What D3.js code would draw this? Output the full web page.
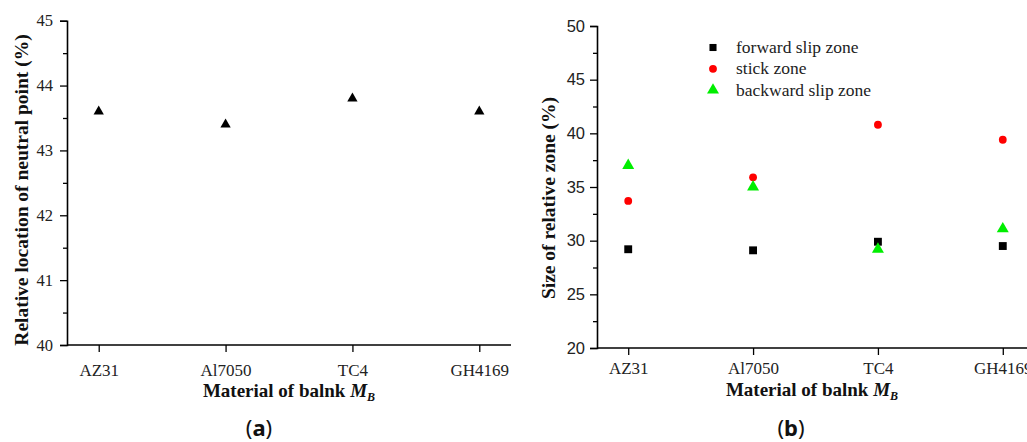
<!DOCTYPE html>
<html><head><meta charset="utf-8">
<script src="https://cdn.jsdelivr.net/npm/d3@7"></script>
<style>
html,body{margin:0;padding:0;background:#fff;}
svg{display:block;}
</style>
</head><body>
<svg id="c" width="1027" height="442"></svg>
<script>
// ---- data ----
const materials = ["AZ31", "Al7050", "TC4", "GH4169"];
const neutralPoint = [43.6, 43.4, 43.8, 43.6];
const forwardSlip = [29.2, 29.1, 29.9, 29.5];
const stickZone = [33.7, 35.9, 40.8, 39.4];
const backwardSlip = [37.0, 35.0, 29.2, 31.1];
const seriesNames = ["forward slip zone", "stick zone", "backward slip zone"];
const ticksA = [40, 41, 42, 43, 44, 45];
const ticksB = [20, 25, 30, 35, 40, 45, 50];

const SERIF = "'Liberation Serif','Times New Roman',Times,serif";
const SANS = "'Liberation Sans',Arial,Helvetica,sans-serif";

const svg = d3.select("#c");

function drawAxes(g, x, y, majors, minors, yFont, yPad, xLabelDy) {
  const ya = d3.axisLeft(y).tickValues(majors).tickSize(7).tickPadding(yPad).tickFormat(d3.format("d"));
  const yg = g.append("g").attr("transform", `translate(${x.range()[0]},0)`).call(ya);
  yg.attr("font-family", null).attr("font-size", null);
  yg.selectAll("text").style("font-family", yFont).style("font-size", "16.5px").attr("fill", "#222");
  const ym = d3.axisLeft(y).tickValues(minors).tickSize(4).tickFormat("");
  g.append("g").attr("transform", `translate(${x.range()[0]},0)`).call(ym).select(".domain").remove();
  const xa = d3.axisBottom(x).tickSize(7).tickPadding(0);
  const xg = g.append("g").attr("transform", `translate(0,${y.range()[0]})`).call(xa);
  xg.attr("font-family", null).attr("font-size", null);
  xg.select(".domain").attr("d", `M${x.range()[0]},0H${x.range()[1]}`);
  xg.selectAll("text").style("font-family", SERIF).style("font-size", "17px").attr("fill", "#222")
    .attr("dy", null).attr("y", xLabelDy);
  g.selectAll(".domain").attr("stroke", "#000").attr("stroke-width", 1.6);
  g.selectAll(".tick line").attr("stroke", "#000").attr("stroke-width", 1.3);
}

function boldText(g, t) {
  return g.append("text").style("font-family", SERIF).style("font-size", "19.5px")
    .style("font-weight", "bold").attr("fill", "#111").text(t);
}

function xTitle(g, cx, y) {
  const t = g.append("text").style("font-family", SERIF).style("font-size", "19px").style("font-weight", "bold")
    .attr("x", cx).attr("y", y).attr("text-anchor", "middle").attr("fill", "#111");
  t.append("tspan").text("Material of balnk ");
  t.append("tspan").style("font-style", "italic").text("M");
  t.append("tspan").style("font-style", "italic").style("font-size", "12px").attr("dy", 4).text("B");
}

function panelLabel(g, cx, letter) {
  const l = g.append("text").style("font-family", "'Noto Sans',sans-serif").style("font-size", "22px")
    .attr("x", cx).attr("y", 436).attr("text-anchor", "middle").attr("fill", "#111");
  l.append("tspan").text("(");
  l.append("tspan").style("font-weight", "bold").text(letter);
  l.append("tspan").text(")");
}

// ---- panel (a) ----
const gA = svg.append("g");
const xA = d3.scalePoint().domain(materials).range([67, 511]).padding(0.25);
const yA = d3.scaleLinear().domain([40, 45]).range([345, 20.7]);
drawAxes(gA, xA, yA, ticksA, d3.range(40.5, 45, 1), SERIF, 7, 31);
gA.selectAll("path.tri").data(materials).enter().append("path")
  .attr("d", d3.symbol(d3.symbolTriangle, 46)())
  .attr("transform", (d, i) => `translate(${xA(d)},${yA(neutralPoint[i])})`)
  .attr("fill", "#000");
boldText(gA, "Relative location of neutral point (%)")
  .attr("transform", "translate(27.5,190) rotate(-90)").attr("text-anchor", "middle");
xTitle(gA, 289, 397);
panelLabel(gA, 259, "a");

// ---- panel (b) ----
const gB = svg.append("g");
const xB = d3.scalePoint().domain(materials).range([597, 1034]).padding(0.25);
const yB = d3.scaleLinear().domain([20, 50]).range([348, 26]);
drawAxes(gB, xB, yB, ticksB, d3.range(22.5, 50, 5), SANS, 5, 26);

const colors = ["#000000", "#ff0000", "#00ee00"];
const symbols = [d3.symbolSquare, d3.symbolCircle, d3.symbolTriangle];
const sizes = [62, 48, 62];
const seriesVals = [forwardSlip, stickZone, backwardSlip];
seriesVals.forEach((vals, s) => {
  gB.append("g").selectAll("path").data(materials).enter().append("path")
    .attr("d", d3.symbol(symbols[s], sizes[s])())
    .attr("transform", (d, i) => `translate(${xB(d)},${yB(vals[i])})`)
    .attr("fill", colors[s]);
});
const leg = gB.append("g").attr("transform", "translate(713,47.5)");
seriesNames.forEach((n, s) => {
  const row = leg.append("g").attr("transform", `translate(0,${s * 21.3})`);
  row.append("path").attr("d", d3.symbol(symbols[s], s === 0 ? 50 : sizes[s])()).attr("fill", colors[s]);
  row.append("text").style("font-family", SERIF).style("font-size", "17.5px").attr("x", 23).attr("y", 5.5)
    .attr("fill", "#222").text(n);
});
boldText(gB, "Size of relative zone (%)")
  .attr("transform", "translate(555,198) rotate(-90)").attr("text-anchor", "middle");
xTitle(gB, 812, 396);
panelLabel(gB, 791, "b");
</script>
</body></html>
